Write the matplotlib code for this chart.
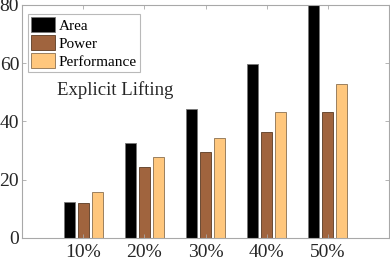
import numpy as np
import matplotlib
matplotlib.use('Agg')
import matplotlib.pyplot as plt

plt.rcParams['font.family'] = ['Liberation Serif', 'DejaVu Serif']

labels = ['10%', '20%', '30%', '40%', '50%']
area = [12.4, 32.6, 44.3, 59.8, 80.0]
power = [12.0, 24.4, 29.6, 36.4, 43.3]
perf = [15.8, 27.8, 34.4, 43.3, 52.9]

colors = ['#000000', '#a0643e', '#ffc77d']
edges = ['#777777', '#5a3a22', '#8a7050']
axc = '#a8a8a8'

fig = plt.figure(figsize=(3.9, 2.6), dpi=100)
ax = fig.add_axes([22/390, 22/260, 367/390, 233/260])

x = np.arange(1, 6)
w = 0.18
off = 0.23
ax.bar(x - off, area, w, color=colors[0], edgecolor=edges[0], lw=0.6, label='Area')
ax.bar(x, power, w, color=colors[1], edgecolor=edges[1], lw=0.6, label='Power')
ax.bar(x + off, perf, w, color=colors[2], edgecolor=edges[2], lw=0.6, label='Performance')

ax.set_xlim(0, 6)
ax.set_ylim(0, 80)
ax.set_xticks(x)
ax.set_xticklabels(labels)
ax.set_yticks([0, 20, 40, 60, 80])
ax.tick_params(direction='in', length=3, width=0.6, colors=axc, labelsize=14,
               top=True, right=True, labelcolor='#262626', pad=2)
ax.tick_params(axis='x', pad=4)
for s in ax.spines.values():
    s.set_color(axc)
    s.set_linewidth(0.8)

leg = ax.legend(loc='upper left', bbox_to_anchor=(0.016, 0.96), fontsize=11,
                frameon=True, fancybox=False, borderpad=0.2, labelspacing=0.15,
                handlelength=1.6, handleheight=1.1, handletextpad=0.2, borderaxespad=0)
leg.get_frame().set_edgecolor(axc)
leg.get_frame().set_linewidth(0.8)

ax.text(0.58, 50.8, 'Explicit Lifting', fontsize=13.5, color='#262626', va='center')

fig.savefig('out.png', dpi=100)
